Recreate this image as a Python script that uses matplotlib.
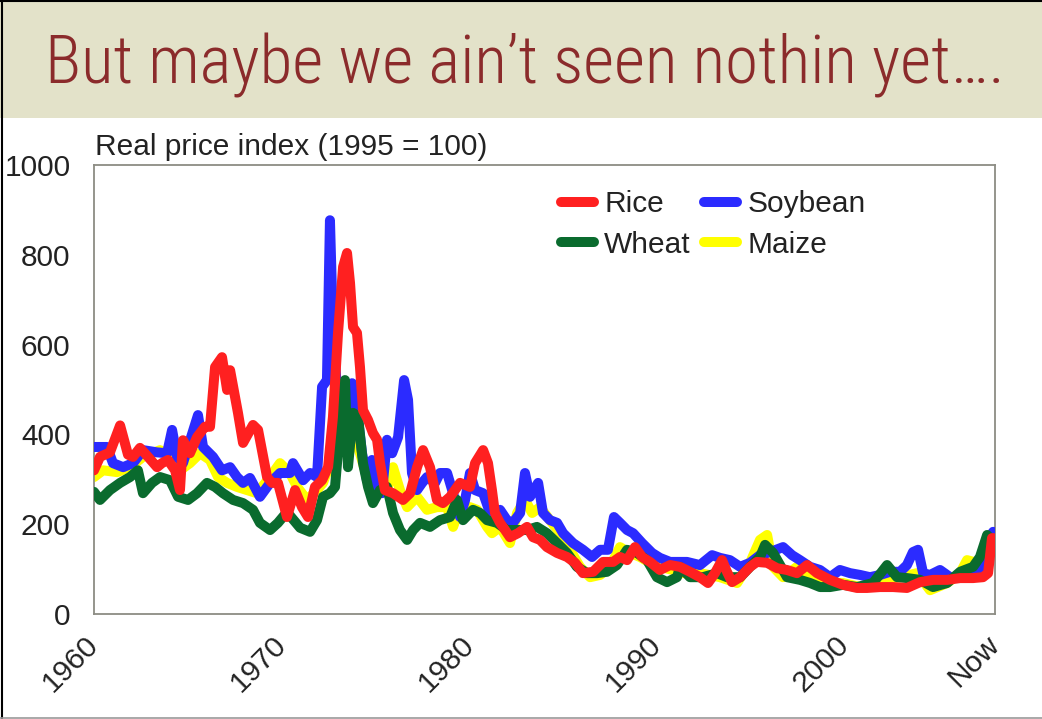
import matplotlib
matplotlib.use('Agg')
import matplotlib.pyplot as plt
from matplotlib.patches import Rectangle
from matplotlib.lines import Line2D
from matplotlib import font_manager

plt.rcParams['font.family'] = ['Liberation Sans', 'DejaVu Sans']

# ---------------- data ----------------
title = "But maybe we ain\u2019t seen nothin yet\u2026."
ylabel_text = "Real price index (1995 = 100)"
tick_years = [1960, 1970, 1980, 1990, 2000, 2008]
tick_labels = ["1960", "1970", "1980", "1990", "2000", "Now"]
y_ticks = [0, 200, 400, 600, 800, 1000]

rice_years = [1960.0, 1960.32, 1960.85, 1961.39, 1961.81, 1962.08, 1962.45, 1962.88, 1963.36, 1963.62,
              1963.94, 1964.32, 1964.58, 1964.74, 1965.11, 1965.49, 1965.91, 1966.18, 1966.45, 1966.82,
              1967.09, 1967.25, 1967.67, 1967.94, 1968.47, 1968.74, 1969.22, 1969.48, 1969.80, 1970.28,
              1970.71, 1971.08, 1971.40, 1971.77, 1972.15, 1972.47, 1972.73, 1973.00, 1973.27, 1973.48,
              1973.64, 1973.80, 1974.01, 1974.17, 1974.33, 1974.60, 1974.86, 1975.08, 1975.24, 1975.50,
              1975.93, 1976.46, 1976.84, 1977.21, 1977.53, 1977.90, 1978.27, 1978.59, 1978.97, 1979.50,
              1980.03, 1980.30, 1980.73, 1980.99, 1981.20, 1981.36, 1981.63, 1981.90, 1982.16, 1982.59,
              1983.07, 1983.39, 1983.76, 1984.13, 1984.67, 1985.20, 1985.63, 1986.05, 1986.59, 1987.12,
              1987.65, 1988.02, 1988.40, 1988.82, 1989.20, 1989.62, 1990.15, 1990.69, 1991.22, 1991.75,
              1992.28, 1992.71, 1993.08, 1993.46, 1993.72, 1993.99, 1994.42, 1994.95, 1995.32, 1995.86,
              1996.39, 1996.92, 1997.45, 1997.99, 1998.52, 1999.21, 1999.90, 2000.65, 2001.18, 2001.88,
              2002.57, 2003.31, 2004.01, 2004.70, 2005.45, 2006.14, 2006.83, 2007.36, 2007.63, 2007.84,
              2007.92]
rice_vals = [320, 350, 360, 420, 355, 350, 370, 350, 327, 336,
             343, 320, 276, 387, 358, 394, 417, 417, 550, 572,
             499, 543, 448, 381, 421, 410, 305, 292, 292, 216,
             276, 238, 216, 283, 298, 327, 439, 626, 773, 804,
             737, 639, 626, 550, 454, 432, 403, 388, 336, 276,
             269, 254, 269, 327, 365, 327, 254, 247, 261, 292,
             283, 336, 365, 336, 276, 225, 203, 187, 171, 180,
             194, 171, 165, 149, 136, 127, 114, 91, 94, 116,
             116, 127, 120, 149, 127, 116, 98, 109, 105, 94,
             82, 69, 91, 120, 94, 71, 82, 105, 116, 114,
             102, 98, 91, 109, 91, 76, 65, 58, 58, 60,
             60, 58, 71, 76, 76, 80, 80, 82, 91, 169,
             169]

soy_years = [1960.0, 1960.69, 1961.01, 1961.55, 1962.08, 1962.61, 1963.36, 1963.89, 1964.16, 1964.42,
             1964.74, 1965.54, 1965.81, 1966.34, 1966.82, 1967.25, 1967.62, 1967.94, 1968.31, 1968.84,
             1969.38, 1969.91, 1970.44, 1970.60, 1971.14, 1971.51, 1971.88, 1972.15, 1972.41, 1972.57,
             1972.73, 1973.00, 1973.27, 1973.53, 1973.75, 1973.91, 1974.07, 1974.28, 1974.54, 1974.81,
             1975.08, 1975.34, 1975.61, 1975.88, 1976.20, 1976.52, 1976.73, 1976.94, 1977.21, 1977.48,
             1977.74, 1978.17, 1978.43, 1978.81, 1979.13, 1979.50, 1979.77, 1980.03, 1980.30, 1980.73,
             1981.10, 1981.63, 1982.00, 1982.32, 1982.70, 1982.96, 1983.23, 1983.66, 1983.92, 1984.29,
             1984.67, 1984.99, 1985.52, 1986.05, 1986.53, 1986.96, 1987.38, 1987.70, 1988.02, 1988.40,
             1988.72, 1989.20, 1989.73, 1990.15, 1990.69, 1991.22, 1991.59, 1992.28, 1992.93, 1993.35,
             1993.88, 1994.42, 1994.95, 1995.48, 1996.02, 1996.71, 1997.19, 1997.61, 1998.15, 1998.68,
             1999.21, 1999.74, 2000.28, 2000.81, 2001.34, 2001.88, 2002.41, 2002.94, 2003.31, 2003.63,
             2003.90, 2004.17, 2004.54, 2005.07, 2005.61, 2006.14, 2006.67, 2007.20, 2007.58, 2007.90]
soy_vals = [372, 372, 336, 327, 336, 365, 360, 358, 410, 350,
            336, 443, 372, 350, 320, 327, 305, 292, 303, 261,
            292, 314, 314, 336, 298, 314, 305, 506, 521, 877,
            639, 461, 403, 448, 514, 403, 432, 358, 298, 343,
            276, 269, 388, 358, 394, 521, 477, 314, 276, 292,
            305, 292, 314, 314, 269, 216, 254, 314, 276, 269,
            225, 232, 209, 203, 225, 314, 261, 292, 225, 209,
            203, 180, 158, 143, 127, 143, 143, 216, 203, 187,
            180, 158, 136, 125, 116, 116, 116, 109, 131, 125,
            120, 105, 114, 131, 138, 149, 131, 120, 105, 98,
            82, 98, 91, 87, 82, 87, 94, 94, 109, 138,
            143, 91, 87, 98, 82, 82, 94, 102, 160, 183]

wheat_years = [1960.0, 1960.32, 1960.85, 1961.39, 1961.92, 1962.34, 1962.61, 1963.09, 1963.52, 1964.05,
               1964.48, 1965.01, 1965.49, 1966.02, 1966.45, 1966.87, 1967.41, 1967.94, 1968.47, 1968.84,
               1969.38, 1969.80, 1970.28, 1970.98, 1971.51, 1971.88, 1972.20, 1972.57, 1972.84, 1973.11,
               1973.37, 1973.53, 1973.80, 1974.07, 1974.33, 1974.60, 1974.86, 1975.24, 1975.61, 1975.93,
               1976.30, 1976.68, 1977.00, 1977.37, 1977.90, 1978.43, 1978.97, 1979.34, 1979.66, 1980.19,
               1980.57, 1980.94, 1981.47, 1982.00, 1982.54, 1983.07, 1983.60, 1984.13, 1984.67, 1985.20,
               1985.73, 1986.27, 1986.80, 1987.33, 1987.86, 1988.40, 1988.93, 1989.46, 1989.99, 1990.53,
               1991.06, 1991.22, 1991.75, 1992.44, 1993.19, 1993.72, 1994.42, 1994.95, 1995.48, 1995.75,
               1996.18, 1996.92, 1997.61, 1998.15, 1998.68, 1999.21, 1999.90, 2000.65, 2001.50, 2002.25,
               2002.78, 2003.31, 2004.01, 2004.70, 2005.45, 2006.14, 2006.83, 2007.20, 2007.58, 2007.95]
wheat_vals = [272, 254, 276, 292, 305, 320, 269, 292, 305, 298,
              261, 254, 269, 292, 283, 269, 254, 247, 232, 203,
              187, 203, 227, 192, 183, 209, 261, 269, 283, 417,
              521, 327, 448, 439, 336, 283, 247, 276, 283, 225,
              187, 165, 187, 203, 194, 209, 216, 254, 209, 232,
              225, 209, 203, 187, 187, 187, 194, 180, 158, 136,
              105, 91, 91, 94, 109, 143, 136, 120, 82, 71,
              82, 105, 82, 82, 91, 82, 82, 105, 127, 154,
              136, 82, 76, 69, 60, 60, 65, 60, 69, 109,
              82, 80, 76, 60, 69, 94, 105, 127, 176, 158]

maize_years = [1960.0, 1960.48, 1961.23, 1961.92, 1962.61, 1963.52, 1964.21, 1964.58, 1965.11, 1965.65,
               1966.18, 1966.61, 1967.09, 1967.62, 1968.15, 1968.68, 1969.38, 1969.91, 1970.44, 1970.82,
               1971.35, 1971.88, 1972.20, 1972.57, 1972.95, 1973.11, 1973.48, 1973.80, 1974.17, 1974.54,
               1975.08, 1975.61, 1975.93, 1976.30, 1976.68, 1977.21, 1977.74, 1978.27, 1978.81, 1979.13,
               1979.50, 1980.03, 1980.41, 1980.94, 1981.20, 1981.63, 1982.16, 1982.54, 1982.96, 1983.34,
               1983.76, 1984.29, 1984.83, 1985.36, 1985.89, 1986.43, 1986.96, 1987.49, 1988.02, 1988.56,
               1989.09, 1989.62, 1990.15, 1990.85, 1991.22, 1992.28, 1993.35, 1994.26, 1994.95, 1995.48,
               1995.86, 1996.18, 1996.71, 1997.45, 1998.15, 1999.05, 1999.90, 2000.81, 2001.88, 2002.94,
               2003.85, 2004.54, 2005.45, 2006.14, 2006.51, 2007.04, 2007.58, 2007.95]
maize_vals = [305, 320, 316, 327, 350, 365, 350, 320, 336, 358,
              343, 305, 292, 283, 276, 269, 305, 336, 314, 283,
              254, 276, 292, 336, 388, 417, 403, 403, 358, 305,
              276, 276, 327, 276, 238, 261, 232, 238, 238, 194,
              238, 238, 232, 194, 180, 194, 158, 225, 254, 225,
              238, 209, 180, 143, 105, 82, 87, 105, 149, 136,
              127, 114, 105, 98, 91, 91, 82, 69, 114, 165,
              176, 105, 82, 105, 76, 69, 69, 60, 76, 82,
              91, 53, 69, 91, 120, 114, 149, 165]

# ---------------- figure ----------------
W, H = 1042, 719
fig = plt.figure(figsize=(W / 100, H / 100), dpi=100)
fig.patch.set_facecolor('white')

# pick a narrow humanist-looking font for the title if one is installed
available = {f.name for f in font_manager.fontManager.ttflist}
title_family = 'Liberation Sans'
for cand in ['Roboto Condensed', 'Liberation Sans Narrow', 'Open Sans Condensed', 'Lato', 'Roboto']:
    if cand in available:
        title_family = cand
        break

# title banner
fig.add_artist(Rectangle((0, 1 - 118 / H), 1, 118 / H, transform=fig.transFigure,
                         facecolor='#E3E2C9', edgecolor='none', zorder=0))
ttl = fig.text(525 / W, 1 - 83 / H, title, ha='center', va='baseline',
               fontsize=40, color='#8B2B2B', family=[title_family, 'DejaVu Sans'],
               fontweight='light')
# fit the title width to the banner text width of the reference (~960 px)
renderer = fig.canvas.get_renderer()
wpx = ttl.get_window_extent(renderer).width
ttl.set_fontsize(min(40 * 960.0 / wpx, 50))

# slide border lines
fig.add_artist(Line2D([1.5 / W, 1.5 / W], [0, 1], transform=fig.transFigure, color='black', lw=1.5))
fig.add_artist(Line2D([0, 1], [1 - 1 / H, 1 - 1 / H], transform=fig.transFigure, color='black', lw=1.5))
fig.add_artist(Line2D([0, 1], [1.5 / H, 1.5 / H], transform=fig.transFigure, color='#999999', lw=1.2))

ax = fig.add_axes([94 / W, 1 - 614 / H, (995 - 94) / W, (614 - 165) / H])
ax.set_facecolor('white')

lw = 7.2
common = dict(lw=lw, solid_capstyle='round', solid_joinstyle='round')
l_maize, = ax.plot(maize_years, maize_vals, color='#FFFF00', zorder=2, label='Maize', **common)
l_soy, = ax.plot(soy_years, soy_vals, color='#2B2BFF', zorder=3, label='Soybean', **common)
l_wheat, = ax.plot(wheat_years, wheat_vals, color='#0A6B2E', zorder=4, label='Wheat', **common)
l_rice, = ax.plot(rice_years, rice_vals, color='#FF2020', zorder=5, label='Rice', **common)

ax.set_xlim(1960, 2008)
ax.set_ylim(0, 1000)
ax.set_yticks(y_ticks)
ax.set_yticklabels([str(v) for v in y_ticks])
ax.set_xticks(tick_years)
ax.set_xticklabels(tick_labels, rotation=45, ha='right', va='center', rotation_mode='anchor')
ax.tick_params(axis='both', length=0, labelsize=21.5, colors='#222222')
ax.tick_params(axis='y', pad=17)
ax.tick_params(axis='x', pad=19)
for s in ax.spines.values():
    s.set_color('#8C8C84')
    s.set_linewidth(1.3)

fig.text(95 / W, 1 - 155 / H, ylabel_text, ha='left', va='baseline', fontsize=21.5, color='#222222')

leg = ax.legend(handles=[l_rice, l_wheat, l_soy, l_maize], ncol=2, frameon=False,
                loc='upper left', bbox_to_anchor=(561 / W, 1 - 190 / H),
                bbox_transform=fig.transFigure, fontsize=21.5, handlelength=1.1,
                handletextpad=0.35, columnspacing=0.45, labelspacing=0.42,
                borderpad=0, borderaxespad=0)
for t in leg.get_texts():
    t.set_color('#222222')

fig.savefig('out.png', dpi=100, facecolor='white')
